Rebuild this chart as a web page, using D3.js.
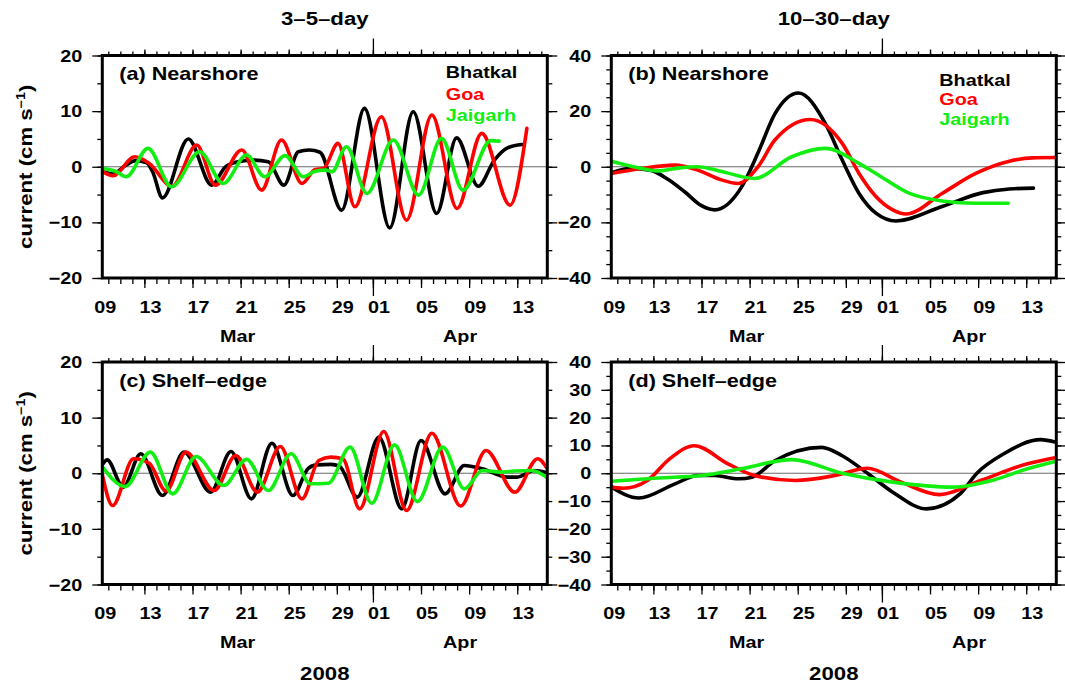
<!DOCTYPE html>
<html>
<head>
<meta charset="utf-8">
<script src="https://cdn.jsdelivr.net/npm/d3@7"></script>
<style>
  html, body { margin: 0; padding: 0; background: #fff; }
  svg { display: block; }
</style>
</head>
<body>
<script>
// Time is given as day-of-March 2008 (32 = 1 Apr); values in cm/s.

// (a) Nearshore, 3–5-day band
const nearShortBhatkal = [[9.5,-0.8],[10.4,-1.3],[11.4,0.2],[12.3,1.1],[13.2,0.7],[13.7,-1.0],[14.5,-5.6],[16.65,5.0],[18.6,-3.3],[19.7,-0.1],[20.6,0.8],[22.0,1.2],[23.3,0.9],[24.6,-3.3],[25.8,2.7],[26.7,3.0],[27.6,2.6],[29.4,-7.8],[31.3,10.5],[33.4,-11.0],[35.35,9.9],[37.3,-8.4],[38.96,5.2],[40.76,-3.5],[42.1,1.2],[43.2,3.4],[44.4,4.0]];
const nearShortGoa = [[9.5,-0.8],[10.4,-1.6],[12.2,1.8],[13.4,0.6],[15.3,-3.5],[17.35,3.9],[18.9,-3.3],[21.1,3.0],[22.75,-4.2],[24.4,4.8],[26.1,-3.0],[27.2,-0.5],[27.9,-0.3],[29.1,4.2],[30.5,-7.2],[32.7,9.0],[34.8,-9.6],[36.9,9.3],[39.0,-7.5],[41.05,6.0],[43.4,-6.9],[44.8,6.9]];
const nearShortJaigarh = [[9.5,-0.3],[10.6,-0.8],[11.5,-1.8],[13.3,3.3],[15.27,-3.6],[17.6,2.7],[19.56,-3.0],[21.5,2.1],[23.0,-1.8],[24.7,2.0],[26.2,-1.8],[27.2,-0.8],[28.1,-0.6],[28.6,-0.9],[29.8,3.6],[31.5,-4.8],[33.7,4.8],[35.8,-5.1],[37.7,5.1],[39.5,-4.2],[41.8,4.7],[42.5,4.6]];

// (b) Nearshore, 10–30-day band
const nearLongBhatkal = [[9.5,-2.2],[11.2,-0.6],[12.8,-1.3],[14.2,-4.5],[15.6,-9.0],[17.0,-14.0],[18.1,-15.5],[20.3,-7.5],[21.7,5.0],[23.1,19.0],[25.08,26.5],[27.3,15.5],[28.7,2.4],[30.1,-9.6],[31.5,-16.7],[33.17,-19.5],[37.0,-14.3],[40.4,-9.3],[42.6,-8.0],[44.6,-7.7]];
const nearLongGoa = [[9.5,-2.4],[12.0,-0.6],[14.75,0.6],[16.7,-1.2],[18.5,-4.5],[20.05,-6.0],[21.7,0.0],[23.1,9.6],[26.05,17.0],[28.7,8.4],[30.1,-2.4],[31.5,-10.7],[32.9,-15.5],[34.0,-17.0],[37.0,-9.6],[39.8,-2.4],[42.6,2.0],[44.5,3.2],[46.5,3.3]];
const nearLongJaigarh = [[9.5,2.0],[12.0,-0.6],[13.3,-1.5],[15.0,-0.5],[16.7,0.0],[18.5,-1.5],[21.4,-4.2],[24.5,3.6],[27.3,6.6],[30.1,1.2],[31.5,-2.4],[34.3,-9.6],[37.0,-12.3],[39.8,-13.1],[42.5,-13.1]];

// (c) Shelf-edge, 3–5-day band
const shelfShortBhatkal = [[9.5,1.5],[9.9,2.4],[11.24,-2.5],[12.7,3.5],[14.5,-4.0],[16.3,3.8],[18.5,-3.4],[20.2,3.9],[21.9,-4.6],[23.6,5.4],[25.35,-4.0],[26.6,0.8],[27.3,1.5],[28.5,1.6],[29.2,1.3],[30.7,-4.3],[32.5,6.5],[34.4,-6.4],[36.0,5.9],[38.0,-3.7],[39.6,1.4],[41.1,0.8],[43.2,-0.7],[44.0,-0.7],[45.4,0.5],[46.5,0.1]];
const shelfShortGoa = [[9.5,-0.2],[10.35,-5.8],[12.1,2.6],[13.4,1.8],[14.8,-3.2],[16.45,3.8],[18.8,-3.1],[20.6,3.2],[22.4,-3.4],[24.3,4.8],[26.1,-4.6],[27.5,2.3],[28.5,2.9],[29.5,2.6],[30.9,-6.4],[32.9,7.5],[34.8,-6.7],[36.9,7.2],[39.3,-5.9],[41.4,4.1],[43.8,-3.4],[45.7,2.6],[46.5,0.8]];
const shelfShortJaigarh = [[9.5,1.2],[11.4,-2.4],[13.5,3.8],[15.35,-3.7],[17.3,3.0],[19.6,-2.2],[21.5,2.5],[23.3,-3.1],[25.2,3.5],[26.8,-1.9],[28.3,-1.8],[30.1,4.7],[31.9,-5.4],[33.8,5.1],[35.7,-5.1],[37.8,4.7],[39.6,-2.8],[41.1,0.5],[42.6,0.2],[43.8,0.4],[45.2,0.5],[46.5,-0.8]];

// (d) Shelf-edge, 10–30-day band
const shelfLongBhatkal = [[9.5,-5.0],[11.8,-8.9],[14.8,-3.8],[16.7,-0.8],[18.1,-0.8],[20.1,-2.0],[21.2,-1.4],[23.1,4.5],[27.0,9.3],[28.7,6.3],[30.8,0.0],[32.9,-6.8],[35.7,-12.8],[38.5,-7.4],[39.9,0.0],[42.1,6.9],[45.2,12.1],[46.5,11.1]];
const shelfLongGoa = [[9.5,-5.0],[10.5,-5.4],[12.5,-2.6],[14.3,5.0],[16.4,9.9],[19.2,3.4],[21.4,-0.8],[24.8,-2.6],[28.1,-0.8],[30.8,1.8],[33.5,-3.0],[36.8,-7.7],[40.2,-2.6],[44.1,3.4],[46.5,5.7]];
const shelfLongJaigarh = [[9.5,-2.9],[13.4,-1.7],[17.0,-0.8],[20.3,1.6],[24.5,4.9],[28.7,0.0],[32.9,-3.2],[37.9,-5.0],[41.3,-2.4],[44.1,1.6],[46.5,4.3]];

const stations = ["Bhatkal", "Goa", "Jaigarh"];
const bandTitles = ["3\u20135\u2013day", "10\u201330\u2013day"];
const panelLabels = ["(a) Nearshore", "(b) Nearshore", "(c) Shelf\u2013edge", "(d) Shelf\u2013edge"];
const yLimits = [20, 40, 20, 40];
const yLabelSteps = [10, 20, 10, 10];
const yearLabel = "2008";
const timeStart = 9.5, timeEnd = 46.5;

// ---------------------------------------------------------------------------
const W = 1065, H = 688;
const FONT = "'Liberation Sans', Arial, Helvetica, sans-serif";
const SX = 1.2; // horizontal stretch of the lettering
const colors = ["#000000", "#ff0000", "#12ee12"];

const svg = d3.select("body").append("svg")
  .attr("width", W).attr("height", H)
  .attr("viewBox", `0 0 ${W} ${H}`);

const dayToDate = d => new Date(Date.UTC(2008, 2, 1) + (d - 1) * 86400000);

function txt(sel, x, y, s, size, anchor = "start", fill = "#000", rot = 0) {
  return sel.append("text")
    .attr("transform", `translate(${x},${y})${rot ? ` rotate(${rot})` : ""} scale(${SX},1)`)
    .attr("text-anchor", anchor)
    .attr("font-family", FONT)
    .attr("font-weight", "bold")
    .attr("font-size", size)
    .attr("fill", fill)
    .text(s);
}

const panelW = 445, panelH = 222.5;
const colX = [102.3, 611.3];
const rowY = [55.5, 362];

const panels = [
  { col: 0, row: 0, series: [nearShortBhatkal, nearShortGoa, nearShortJaigarh], legend: { dx: 343.5, dy: [22, 44, 65.5] } },
  { col: 1, row: 0, series: [nearLongBhatkal, nearLongGoa, nearLongJaigarh], legend: { dx: 328, dy: [30, 49.5, 69] } },
  { col: 0, row: 1, series: [shelfShortBhatkal, shelfShortGoa, shelfShortJaigarh] },
  { col: 1, row: 1, series: [shelfLongBhatkal, shelfLongGoa, shelfLongJaigarh] }
];

panels.forEach((p, i) => {
  const px = colX[p.col], py = rowY[p.row];
  const t0 = dayToDate(timeStart), t1 = dayToDate(timeEnd);
  const x = d3.scaleUtc().domain([t0, t1]).range([px, px + panelW]);
  const ymax = yLimits[i];
  const y = d3.scaleLinear().domain([-ymax, ymax]).range([py + panelH, py]);
  const g = svg.append("g");

  const tickStyle = sel => {
    sel.select(".domain").remove();
    sel.selectAll("line").attr("stroke", "#000").attr("stroke-width", 1.3);
    sel.selectAll("text").remove();
  };

  // time ticks (daily minor, 4-day major, month boundary long)
  const days = d3.utcDay.every(1).range(t0, t1);
  const days4 = d3.utcDay.every(4).range(t0, t1);
  const months = d3.utcMonth.every(1).range(t0, t1);
  [[days, 6, 4], [days4, 10, 6], [months, 18, 17]].forEach(([vals, down, up]) => {
    g.append("g").attr("transform", `translate(0,${py + panelH})`)
      .call(d3.axisBottom(x).tickValues(vals).tickSize(down).tickSizeOuter(0)).call(tickStyle);
    g.append("g").attr("transform", `translate(0,${py})`)
      .call(d3.axisTop(x).tickValues(vals).tickSize(up).tickSizeOuter(0)).call(tickStyle);
  });

  // value ticks on both sides
  const minorV = d3.range(-ymax, ymax + 0.001, 5);
  const majorV = d3.range(-ymax, ymax + 0.001, yLabelSteps[i]);
  [[minorV, 5], [majorV, 10]].forEach(([vals, len]) => {
    g.append("g").attr("transform", `translate(${px},0)`)
      .call(d3.axisLeft(y).tickValues(vals).tickSize(len).tickSizeOuter(0)).call(tickStyle);
    g.append("g").attr("transform", `translate(${px + panelW},0)`)
      .call(d3.axisRight(y).tickValues(vals).tickSize(len).tickSizeOuter(0)).call(tickStyle);
  });

  // value labels
  majorV.forEach(v => {
    txt(g, px - 20, y(v) + 6, v < 0 ? "\u2212" + Math.abs(v) : String(v), 16.5, "end");
  });

  // day labels, centred in the visible part of each day
  d3.utcDay.every(4).range(d3.utcDay.floor(t0), t1).forEach(d => {
    const a = Math.max(+d, +t0), b = Math.min(+d3.utcDay.offset(d, 1), +t1);
    txt(g, (x(a) + x(b)) / 2, py + panelH + 34.5, d3.utcFormat("%d")(d), 16.5, "middle");
  });
  // month labels, centred in the visible part of each month
  d3.utcMonth.range(d3.utcMonth.floor(t0), t1).forEach(m => {
    const a = Math.max(+m, +t0), b = Math.min(+d3.utcMonth.offset(m, 1), +t1);
    txt(g, (x(a) + x(b)) / 2, py + panelH + 63.5, d3.utcFormat("%b")(m), 16.5, "middle");
  });

  // zero line
  g.append("line")
    .attr("x1", px).attr("x2", px + panelW)
    .attr("y1", y(0)).attr("y2", y(0))
    .attr("stroke", "#6a6a6a").attr("stroke-width", 1.1);

  // series
  const clipId = "clip" + i;
  svg.append("clipPath").attr("id", clipId)
    .append("rect").attr("x", px).attr("y", py).attr("width", panelW).attr("height", panelH);
  const line = d3.line()
    .x(d => x(dayToDate(d[0])))
    .y(d => y(d[1]))
    .curve(d3.curveMonotoneX);
  const lines = g.append("g").attr("clip-path", `url(#${clipId})`);
  p.series.forEach((s, k) => {
    lines.append("path")
      .attr("d", line(s))
      .attr("fill", "none")
      .attr("stroke", colors[k])
      .attr("stroke-width", 3.6)
      .attr("stroke-linejoin", "round")
      .attr("stroke-linecap", "round");
  });

  // frame
  g.append("rect")
    .attr("x", px).attr("y", py).attr("width", panelW).attr("height", panelH)
    .attr("fill", "none").attr("stroke", "#000").attr("stroke-width", 3);

  // panel label
  txt(g, px + 17, py + 24.5, panelLabels[i], 18);

  // legend
  if (p.legend) {
    stations.forEach((s, k) => txt(g, px + p.legend.dx, py + p.legend.dy[k], s, 16.5, "start", colors[k]));
  }

  // column title / year / axis title
  if (p.row === 0) txt(svg, px + panelW / 2, 25, bandTitles[p.col], 18.5, "middle");
  if (p.row === 1) txt(svg, px + panelW / 2, 679.5, yearLabel, 18.5, "middle");
  if (p.col === 0) {
    const t = txt(svg, 32, py + panelH / 2, "current (cm s", 18.5, "middle", "#000", -90);
    t.append("tspan").attr("font-size", 12).attr("dy", -7).text("\u22121");
    t.append("tspan").attr("dy", 7).text(")");
  }
});
</script>
</body>
</html>
